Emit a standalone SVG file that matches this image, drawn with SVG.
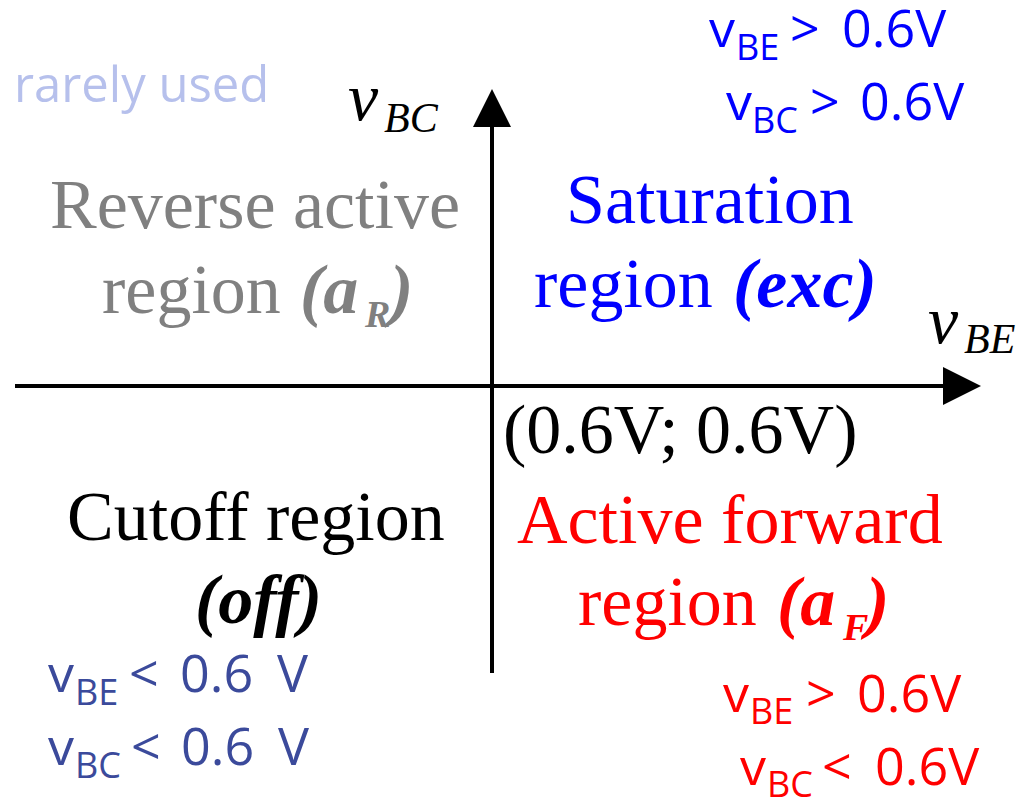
<svg xmlns="http://www.w3.org/2000/svg" width="1020" height="799" viewBox="0 0 1020 799">
<style>
.serif{font-family:"Liberation Serif","Times New Roman",serif;font-size:70px}
.bi{font-weight:bold;font-style:italic}
.it{font-style:italic}
.sans{font-family:"Open Sans","Noto Sans","DejaVu Sans",sans-serif;font-size:52px}
.sub{font-size:36px}
.gray{fill:#808080}
.blue{fill:#0000ff}
.red{fill:#ff0000}
.navy{fill:#3b4a9b}
.black{fill:#000000}
.axis{stroke:#000;stroke-width:4;fill:none}
</style>
<defs>
<marker id="arrow" markerUnits="userSpaceOnUse" markerWidth="40" markerHeight="40" refX="0" refY="19" orient="auto">
<path d="M0,0 L38,19 L0,38 Z" fill="#000"/>
</marker>
</defs>
<rect width="1020" height="799" fill="#ffffff"/>
<g id="connectors">
<line id="axis-vbe" class="axis" x1="15" y1="386" x2="943" y2="386" marker-end="url(#arrow)"/>
<line id="axis-vbc" class="axis" x1="492" y1="673" x2="492" y2="127" marker-end="url(#arrow)"/>
</g>
<g id="label-rarely-used">
<text class="sans" x="14" y="102" style="font-size:49px;fill:#b6c0ec">rarely used</text>
</g>
<g id="axis-label-vbc">
<text class="serif it black" x="348" y="120" style="font-size:68px">v</text>
<text class="serif it black" x="384" y="132" style="font-size:42px">BC</text>
</g>
<g id="axis-label-vbe">
<text class="serif it black" x="928" y="343" style="font-size:68px">v</text>
<text class="serif it black" x="964" y="353" style="font-size:42px">BE</text>
</g>
<g id="reverse-active">
<text class="serif gray" x="50" y="228">Reverse active</text>
<text class="serif gray" x="102" y="313">region</text>
<text class="serif gray bi" x="300" y="313">(a</text>
<text class="serif gray bi" x="365" y="327" style="font-size:38px">R</text>
<text class="serif gray bi" x="390" y="313">)</text>
</g>
<g id="saturation">
<text class="serif blue" x="566" y="223">Saturation</text>
<text class="serif blue" x="534" y="307">region</text>
<text class="serif blue bi" x="733" y="307">(exc)</text>
</g>
<g id="origin">
<text class="serif black" x="503" y="453">(0.6V; 0.6V)</text>
</g>
<g id="cutoff">
<text class="serif black" x="67" y="540">Cutoff region</text>
<text class="serif black bi" x="195" y="623">(off)</text>
</g>
<g id="active-forward">
<text class="serif red" x="517" y="543">Active forward</text>
<text class="serif red" x="578" y="625">region</text>
<text class="serif red bi" x="777" y="625">(a</text>
<text class="serif red bi" x="843" y="640" style="font-size:38px">F</text>
<text class="serif red bi" x="866" y="625">)</text>
</g>
<g id="cond-saturation">
<text class="sans blue" x="709" y="47">v</text>
<text class="sans sub blue" x="736" y="60">BE</text>
<text class="sans blue" x="790" y="47">&gt;</text>
<text class="sans blue" x="842" y="47">0.6V</text>
<text class="sans blue" x="726" y="120">v</text>
<text class="sans sub blue" x="752" y="133">BC</text>
<text class="sans blue" x="810" y="120">&gt;</text>
<text class="sans blue" x="860" y="120">0.6V</text>
</g>
<g id="cond-cutoff">
<text class="sans navy" x="48" y="692">v</text>
<text class="sans sub navy" x="75" y="705">BE</text>
<text class="sans navy" x="129" y="692">&lt;</text>
<text class="sans navy" x="180" y="692">0.6</text>
<text class="sans navy" x="277" y="692">V</text>
<text class="sans navy" x="48" y="765">v</text>
<text class="sans sub navy" x="75" y="778">BC</text>
<text class="sans navy" x="131" y="765">&lt;</text>
<text class="sans navy" x="181" y="765">0.6</text>
<text class="sans navy" x="278" y="765">V</text>
</g>
<g id="cond-active">
<text class="sans red" x="723" y="712">v</text>
<text class="sans sub red" x="750" y="724">BE</text>
<text class="sans red" x="806" y="712">&gt;</text>
<text class="sans red" x="857" y="712">0.6V</text>
<text class="sans red" x="740" y="785">v</text>
<text class="sans sub red" x="767" y="797">BC</text>
<text class="sans red" x="822" y="785">&lt;</text>
<text class="sans red" x="875" y="785">0.6V</text>
</g>
</svg>
